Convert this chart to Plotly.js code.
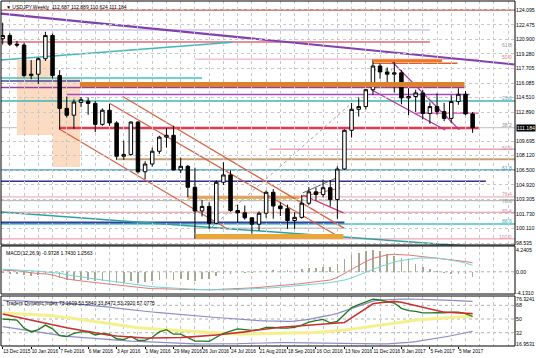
<!DOCTYPE html>
<html><head><meta charset="utf-8">
<script src="https://cdn.plot.ly/plotly-3.0.1.min.js"></script>
<style>html,body{margin:0;padding:0;background:#fff;overflow:hidden}#chart{width:536px;height:358px}</style>
</head><body><div id="chart"></div>
<script>
// ---------- DATA ----------
const weeks = ['2015-12-13','2015-12-20','2015-12-27','2016-01-03','2016-01-10','2016-01-17','2016-01-24','2016-01-31','2016-02-07','2016-02-14','2016-02-21','2016-02-28','2016-03-06','2016-03-13','2016-03-20','2016-03-27','2016-04-03','2016-04-10','2016-04-17','2016-04-24','2016-05-01','2016-05-08','2016-05-15','2016-05-22','2016-05-29','2016-06-05','2016-06-12','2016-06-19','2016-06-26','2016-07-03','2016-07-10','2016-07-17','2016-07-24','2016-07-31','2016-08-07','2016-08-14','2016-08-21','2016-08-28','2016-09-04','2016-09-11','2016-09-18','2016-09-25','2016-10-02','2016-10-09','2016-10-16','2016-10-23','2016-10-30','2016-11-06','2016-11-13','2016-11-20','2016-11-27','2016-12-04','2016-12-11','2016-12-18','2016-12-25','2017-01-01','2017-01-08','2017-01-15','2017-01-22','2017-01-29','2017-02-05','2017-02-12','2017-02-19','2017-02-26','2017-03-05','2017-03-12','2017-03-19'];
const opens  = [120.95,121.30,120.35,120.25,116.90,117.05,118.75,121.30,116.90,113.30,112.55,113.95,114.10,113.85,111.55,113.10,111.70,108.05,108.25,111.80,106.35,107.20,108.60,110.15,110.35,106.55,106.95,104.65,102.05,102.55,100.70,105.20,106.00,102.10,101.85,101.30,100.60,101.80,104.10,102.60,102.30,101.00,101.35,102.90,104.15,103.85,104.60,103.30,106.65,110.90,113.20,113.50,115.35,117.95,117.30,117.05,117.20,114.45,114.60,115.00,112.75,113.50,112.95,112.20,114.05,114.85,112.689];
const highs  = [122.70,121.55,120.70,120.50,118.60,118.90,121.70,121.50,117.50,114.60,114.30,114.55,114.50,114.10,113.30,113.80,111.90,109.75,111.90,111.90,107.50,109.00,110.30,111.20,111.40,107.90,107.10,106.80,103.25,103.00,105.40,107.40,106.50,102.75,102.65,101.35,102.00,104.30,104.45,103.00,102.75,101.90,103.80,104.65,104.60,105.50,105.45,106.95,111.00,113.90,114.50,115.40,118.65,118.25,117.80,118.60,117.50,115.50,115.35,115.35,113.95,114.95,113.90,114.75,115.50,115.20,112.889];
const lows   = [120.30,120.15,120.00,116.70,116.50,115.98,118.50,116.60,110.98,112.30,111.05,113.45,112.60,110.70,111.40,111.40,107.65,107.65,108.10,106.15,105.55,106.90,108.30,109.00,106.50,106.20,103.55,99.00,101.45,100.10,100.60,104.90,101.95,100.75,101.10,99.55,99.90,101.30,101.20,101.50,100.10,100.10,101.20,102.70,103.20,103.55,102.55,101.20,106.55,110.10,112.40,113.20,114.80,116.55,116.05,115.05,113.75,112.55,112.90,112.10,111.60,112.60,111.90,111.70,113.70,112.55,110.624];
const closes = [121.30,120.35,120.25,116.90,117.05,118.75,121.30,116.90,113.30,112.55,114.00,114.25,113.85,111.55,113.10,111.70,108.05,108.25,111.80,106.35,107.20,108.60,110.15,110.35,106.55,106.95,104.65,102.05,102.55,100.70,105.20,106.00,102.10,101.85,101.30,100.60,101.80,104.10,102.60,102.30,101.00,101.35,102.90,104.15,103.85,104.60,103.30,106.65,110.90,113.20,113.50,115.35,117.95,117.30,117.05,117.20,114.45,114.60,115.00,112.75,113.50,112.95,112.20,114.05,114.85,112.70,111.184];

const macdHist   = [-0.3,-0.4,-0.5,-0.7,-0.8,-0.7,-0.5,-0.8,-1.3,-1.6,-1.6,-1.5,-1.6,-1.8,-1.7,-1.9,-2.2,-2.1,-1.8,-2.1,-2.0,-1.8,-1.5,-1.3,-1.5,-1.4,-1.5,-1.7,-1.4,-1.4,-0.9,-0.4,-0.5,-0.3,-0.2,-0.2,0.0,0.2,0.3,0.4,0.3,0.3,0.5,0.7,0.8,0.9,0.9,1.5,2.4,3.2,3.6,4.0,4.24,4.0,3.5,3.0,2.6,2.3,1.6,1.0,0.5,0.1,-0.3,-0.4,-0.5,-0.5,-0.97];
const macdMain   = [0.3,0.25,0.2,0.0,-0.2,-0.35,-0.4,-0.6,-1.0,-1.4,-1.6,-1.8,-1.95,-2.1,-2.25,-2.4,-2.6,-2.8,-2.9,-3.1,-3.2,-3.3,-3.3,-3.3,-3.35,-3.4,-3.45,-3.5,-3.5,-3.5,-3.45,-3.35,-3.3,-3.25,-3.2,-3.15,-3.05,-2.9,-2.8,-2.7,-2.6,-2.45,-2.3,-2.1,-1.95,-1.8,-1.6,-1.1,-0.3,0.5,1.3,2.0,2.6,3.0,3.3,3.4,3.35,3.25,3.1,2.95,2.8,2.6,2.45,2.3,2.15,2.0,1.743];
const macdSignal = [0.5,0.45,0.4,0.3,0.2,0.1,0.0,-0.1,-0.3,-0.55,-0.8,-1.0,-1.2,-1.4,-1.6,-1.8,-2.0,-2.2,-2.4,-2.6,-2.75,-2.9,-3.0,-3.1,-3.2,-3.3,-3.35,-3.4,-3.45,-3.5,-3.5,-3.5,-3.5,-3.45,-3.4,-3.35,-3.3,-3.2,-3.1,-3.0,-2.9,-2.8,-2.7,-2.55,-2.4,-2.25,-2.1,-1.9,-1.6,-1.2,-0.7,-0.1,0.5,1.0,1.5,1.9,2.2,2.45,2.6,2.7,2.7,2.65,2.5,2.3,2.0,1.7,1.256];

const tdiUpper  = [74.5,74.3,74.0,73.8,73.5,73.2,72.8,72.2,71.5,70.8,70.0,69.3,68.5,67.6,66.8,65.6,64.4,63.2,62.1,61.0,60.1,59.2,58.3,57.4,56.5,55.8,55.0,54.3,53.6,52.8,52.0,51.3,50.5,49.8,49.0,48.4,47.9,47.5,47.2,47.0,47.0,47.3,48.0,49.5,51.5,53.0,55.0,57.5,60.5,63.5,66.5,70.0,73.5,75.0,75.6,75.9,76.1,76.32,76.2,76.0,75.7,75.3,74.9,74.5,74.1,73.6,73.16];
const tdiLower  = [39.9,38.5,37.0,35.5,34.0,32.5,31.0,29.5,28.3,27.2,26.4,25.6,24.8,24.0,23.3,22.6,22.0,21.4,20.9,20.5,20.0,19.5,19.0,18.6,18.2,17.9,17.6,17.3,17.1,17.0,16.95,17.0,17.2,17.5,17.8,18.1,18.4,18.8,19.2,19.0,18.8,18.6,18.4,18.3,18.2,18.1,17.9,17.7,17.5,17.3,17.2,17.1,17.1,17.2,17.4,17.7,18.3,19.2,20.3,21.6,23.0,24.6,26.3,28.0,29.8,31.8,33.85];
const tdiBase   = [57.9,57.5,57.0,56.5,56.0,55.4,54.8,54.1,53.4,52.0,50.6,49.2,47.8,46.4,45.0,43.7,42.4,41.1,39.8,38.6,37.9,37.2,36.5,35.8,35.1,34.5,34.0,33.5,32.9,32.3,31.8,31.2,30.7,30.4,30.4,30.5,30.6,30.8,30.9,31.1,31.2,31.3,31.5,31.7,32.2,32.9,33.6,34.4,35.4,36.7,38.1,39.5,40.8,42.2,43.5,44.8,46.1,47.5,48.5,49.5,50.3,51.0,51.6,52.2,52.8,53.2,53.58];
const tdiSignal = [56.5,54.5,52.0,50.0,47.5,45.5,44.0,42.5,40.5,38.6,36.8,35.0,33.2,31.3,29.5,28.6,27.7,26.8,25.9,25.0,25.0,25.0,25.0,25.0,25.0,25.6,26.2,26.7,27.2,28.1,29.0,29.9,30.8,31.7,33.1,34.5,35.8,37.2,38.6,39.2,39.8,40.5,41.1,41.7,42.4,43.2,44.0,44.7,45.4,51.5,57.7,63.8,70.0,71.5,72.5,73.2,72.0,70.0,67.8,65.6,63.4,61.2,59.0,58.5,58.0,57.5,57.08];
const tdiRsi    = [50,49.5,48.5,38,33,36,42,37,28,27,31,33,33,29,31,30,24,23,27,22,22,26,33,36,30,30,25,21,21,20.5,26,31,34,37,36,35,36,39,39,38,38,39,42,46,48,49.5,45,47,56,65,69,73,76,75,73,71,64,61,60,58,58,58.5,58,59,59,57,53.29];

const priceTicks = [124.095,122.475,120.900,119.280,117.705,116.085,114.510,112.890,109.695,108.120,106.500,104.920,103.305,101.730,100.110,98.535];
const dateTicks = ['2015-12-13','2016-01-10','2016-02-07','2016-03-06','2016-04-03','2016-05-01','2016-05-29','2016-06-26','2016-07-24','2016-08-21','2016-09-18','2016-10-16','2016-11-13','2016-12-11','2017-01-08','2017-02-05','2017-03-05'];
const dateTickText = ['13 Dec 2015','10 Jan 2016','7 Feb 2016','6 Mar 2016','3 Apr 2016','1 May 2016','29 May 2016','26 Jun 2016','24 Jul 2016','21 Aug 2016','18 Sep 2016','16 Oct 2016','13 Nov 2016','11 Dec 2016','8 Jan 2017','5 Feb 2017','5 Mar 2017'];
const lastPrice = 111.184;

// horizontal levels: price, from, to
const levelPrice = [124.095,121.90,120.59,118.70,116.31,115.60,114.83,114.12,116.64,112.80,111.16,108.82,107.72,106.55,105.31,103.56,103.59,103.18,101.91,100.63,100.79,100.16,98.99,118.25,117.52];
const levelFrom  = ['2015-12-10','2015-12-10','2015-12-10','2016-06-19','2015-12-10','2015-12-10','2016-02-14','2015-12-10','2015-12-10','2017-01-22','2016-02-07','2016-08-31','2016-04-04','2015-12-10','2015-12-10','2016-06-12','2015-12-10','2015-12-10','2015-12-10','2015-12-10','2015-12-10','2016-06-20','2015-12-10','2016-12-11','2016-12-11'];
const levelTo    = ['2017-05-05','2017-02-05','2017-02-05','2017-03-25','2016-02-27','2017-03-11','2017-03-16','2017-05-05','2016-06-26','2017-03-25','2017-03-25','2017-05-05','2017-05-05','2017-05-05','2017-04-01','2016-09-30','2017-05-05','2017-05-05','2017-05-05','2017-05-05','2016-11-13','2016-11-12','2017-05-05','2017-03-04','2016-12-30'];
const levelStyle = [['#c85a5a',1.5,'solid'],['#b4a4e6',1,'solid'],['#e06a7a',1.5,'solid'],['#eaa0b0',1,'solid'],['#4a4aa0',1.5,'solid'],['#9a3aa8',1.5,'solid'],['#a848c8',1.5,'solid'],['#40b4b4',1.5,'solid'],['#40c4c4',1.5,'solid'],['#e050b0',1.5,'solid'],['#e03a50',2.5,'solid'],['#eaa0b8',1.5,'solid'],['#c8a070',2,'solid'],['#40a0c8',1.5,'solid'],['#303090',1.5,'solid'],['#e0a020',3,'solid'],['#eaa0b0',1,'solid'],['#b0b0b0',1,'solid'],['#e890a0',1,'solid'],['#40c4c4',1.5,'solid'],['#3040a0',2,'solid'],['#a0a0a0',1,'solid'],['#e890a8',1,'solid'],['#e06020',1.5,'solid'],['#40a040',1,'dot']];

// trend lines: [date0, price0, date1, price1]
const trendD0 = ['2015-12-10','2015-12-10','2015-12-10','2016-04-09','2016-03-27','2016-02-07','2016-10-03','2016-07-06','2016-12-30','2016-12-10','2016-10-03','2016-10-01'];
const trendP0 = [123.71,118.61,101.94,114.61,113.87,111.01,103.81,100.33,118.39,115.32,104.03,103.59];
const trendD1 = ['2017-04-29','2016-07-26','2017-03-29','2016-11-13','2016-11-05','2016-07-21','2016-11-12','2016-11-18','2017-03-06','2017-02-20','2016-11-05','2016-11-09'];
const trendP1 = [118.12,120.55,98.08,100.14,99.39,100.08,101.84,113.68,110.94,110.94,105.67,104.58];
const trendStyle = [['#8040b0',2,'solid'],['#40b8b8',1.5,'solid'],['#30a0a0',1.5,'solid'],['#d86040',1.2,'solid'],['#d86040',1.2,'solid'],['#d86040',1.2,'solid'],['#d03060',1.2,'solid'],['#a0a0a0',1,'dot'],['#b030a0',1.2,'solid'],['#b030a0',1.2,'solid'],['#606060',1,'solid'],['#d86040',1,'solid']];

// filled zones: [date0, date1, priceTop, priceBottom]
const zoneD0 = ['2015-12-27','2016-01-31','2016-02-27','2016-12-11','2016-06-20'];
const zoneD1 = ['2016-01-31','2016-02-27','2017-03-11','2017-02-17','2016-11-12'];
const zoneTop = [118.61,116.64,116.20,118.68,99.53];
const zoneBot = [110.39,106.88,115.65,118.38,98.98];
const zoneColor = ['#fbdcc2','#fbdcc2','#d9822b','#f07820','#e8a838'];
const zoneBelow = [true,true,false,false,false];

// fibonacci labels
const fibText  = ['61.8','50.0','23.6','38.2','50.0','61.8','76.4','78.6','85.4','88.6','100.0'];
const fibPrice = [120.30,118.90,114.40,111.50,108.95,106.75,103.90,103.10,102.05,100.95,99.20];
const fibColor = ['#909090','#e07868','#70a0a0','#909090','#e090a0','#5090c0','#e090a0','#909090','#e090a0','#40b0b0','#e090a0'];

// ---------- BUILD ----------
const FONT = 'Liberation Sans, Arial, sans-serif';
const shapes = [];
const annotations = [];

for (let i = 0; i < zoneD0.length; i++) {
  shapes.push({type:'rect', xref:'x', yref:'y', x0:zoneD0[i], x1:zoneD1[i], y0:zoneBot[i], y1:zoneTop[i],
    fillcolor:zoneColor[i], line:{width:0}, layer: zoneBelow[i] ? 'below' : 'above'});
}
for (let i = 0; i < levelPrice.length; i++) {
  const s = levelStyle[i];
  shapes.push({type:'line', xref:'x', yref:'y', x0:levelFrom[i], x1:levelTo[i], y0:levelPrice[i], y1:levelPrice[i],
    line:{color:s[0], width:s[1], dash:s[2]}, layer:'below'});
}
shapes.push({type:'line', xref:'x domain', yref:'y', x0:0, x1:1, y0:lastPrice, y1:lastPrice, line:{color:'#c0c0c0', width:1}, layer:'below'});
for (let i = 0; i < trendD0.length; i++) {
  const s = trendStyle[i];
  shapes.push({type:'line', xref:'x', yref:'y', x0:trendD0[i], x1:trendD1[i], y0:trendP0[i], y1:trendP1[i],
    line:{color:s[0], width:s[1], dash:s[2]}, layer:'below'});
}
shapes.push({type:'line', xref:'x domain', yref:'y2', x0:0, x1:1, y0:0, y1:0, line:{color:'#b0b0b0', width:1, dash:'dot'}});
[68,50,32].forEach(v => shapes.push({type:'line', xref:'x domain', yref:'y3', x0:0, x1:1, y0:v, y1:v, line:{color:'#b0b0b0', width:1, dash:'dot'}, layer:'below'}));
['y','y2','y3'].forEach(a => shapes.push({type:'rect', xref:'x domain', yref:a+' domain', x0:0, x1:1, y0:0, y1:1, line:{color:'#000', width:1}, fillcolor:'rgba(0,0,0,0)'}));

for (let i = 0; i < fibText.length; i++) {
  annotations.push({xref:'x domain', yref:'y', x:0.998, y:fibPrice[i], xanchor:'right', yanchor:'middle', text:fibText[i],
    showarrow:false, font:{family:FONT, size:5, color:fibColor[i]}});
}
annotations.push({xref:'paper', yref:'y', x:1.002, y:lastPrice, xanchor:'left', yanchor:'middle', text:'111.184',
  showarrow:false, bgcolor:'#000', borderpad:0, font:{family:FONT, size:5.2, color:'#fff'}});
annotations.push({xref:'paper', yref:'y domain', x:0.006, y:0.997, xanchor:'left', yanchor:'top',
  text:'▼ USDJPY,Weekly  112.687 112.889 110.624 111.184', showarrow:false, font:{family:FONT, size:5, color:'#000'}});
annotations.push({xref:'paper', yref:'y2 domain', x:0.006, y:0.96, xanchor:'left', yanchor:'top',
  text:'MACD(12,26,9) -0.9728 1.7430 1.2563', showarrow:false, font:{family:FONT, size:5, color:'#000'}});
annotations.push({xref:'paper', yref:'y3 domain', x:0.006, y:0.96, xanchor:'left', yanchor:'top',
  text:'Traders Dynamic Index 73.1609 53.5840 33.8472 53.2920 57.0775', showarrow:false, font:{family:FONT, size:5, color:'#000'}});

const traces = [
  {type:'candlestick', x:weeks, open:opens, high:highs, low:lows, close:closes, xaxis:'x', yaxis:'y',
   increasing:{line:{color:'#000', width:1}, fillcolor:'#fff'},
   decreasing:{line:{color:'#000', width:1}, fillcolor:'#000'},
   whiskerwidth:0, hoverinfo:'skip', showlegend:false},
  {type:'bar', x:weeks, y:macdHist, xaxis:'x', yaxis:'y2', marker:{color:'#a8a890', line:{width:0}}, width:1.6*86400000, hoverinfo:'skip', showlegend:false},
  {type:'scatter', mode:'lines', x:weeks, y:macdMain, xaxis:'x', yaxis:'y2', line:{color:'#e07878', width:1}, hoverinfo:'skip', showlegend:false},
  {type:'scatter', mode:'lines', x:weeks, y:macdSignal, xaxis:'x', yaxis:'y2', line:{color:'#70d4d4', width:1}, hoverinfo:'skip', showlegend:false},
  {type:'scatter', mode:'lines', x:weeks, y:tdiUpper, xaxis:'x', yaxis:'y3', line:{color:'#8c8cc8', width:1.2}, hoverinfo:'skip', showlegend:false},
  {type:'scatter', mode:'lines', x:weeks, y:tdiLower, xaxis:'x', yaxis:'y3', line:{color:'#8c8cc8', width:1.2}, hoverinfo:'skip', showlegend:false},
  {type:'scatter', mode:'lines', x:weeks, y:tdiBase, xaxis:'x', yaxis:'y3', line:{color:'#f4f08c', width:3}, hoverinfo:'skip', showlegend:false},
  {type:'scatter', mode:'lines', x:weeks, y:tdiRsi, xaxis:'x', yaxis:'y3', line:{color:'#1e7a1e', width:1.3}, hoverinfo:'skip', showlegend:false},
  {type:'scatter', mode:'lines', x:weeks, y:tdiSignal, xaxis:'x', yaxis:'y3', line:{color:'#c83030', width:1.6}, hoverinfo:'skip', showlegend:false}
];

const yCommon = {side:'right', anchor:'x', showline:false, zeroline:false, ticks:'', fixedrange:true, automargin:false,
  tickfont:{family:FONT, size:5.2, color:'#000'}, ticklabelstandoff:0};

const layout = {
  width:536, height:358,
  margin:{l:1, r:21, t:1, b:12, pad:0},
  paper_bgcolor:'#fff', plot_bgcolor:'#fff',
  showlegend:false, dragmode:false, hovermode:false,
  bargap:0,
  xaxis:{type:'date', anchor:'y3', range:['2015-12-11 08:00','2017-04-29 16:00'], automargin:false,
    rangeslider:{visible:false}, showgrid:false, zeroline:false, showline:false,
    tickmode:'array', tickvals:dateTicks, ticktext:dateTickText, tickangle:0,
    ticks:'outside', ticklen:2, tickcolor:'#000', ticklabelposition:'outside right',
    tickfont:{family:FONT, size:4.8, color:'#000'}, ticklabelstandoff:0,
    minor:{tick0:'2015-12-20', dtick:14*86400000, showgrid:true, gridcolor:'#c8c8c8', griddash:'dot', gridwidth:1, ticks:''}},
  yaxis:Object.assign({}, yCommon, {domain:[0.2928,1], range:[98.32,125.08], tickvals:priceTicks,
    ticktext:priceTicks.map(v => v.toFixed(3)), showgrid:true, gridcolor:'#c8c8c8', griddash:'dot', gridwidth:1}),
  yaxis2:Object.assign({}, yCommon, {domain:[0.1507,0.2899], range:[-4.32,5.02], tickvals:[4.2405,0,-4.131],
    ticktext:['4.2405','0.00','-4.1310'], showgrid:false}),
  yaxis3:Object.assign({}, yCommon, {domain:[0,0.1449], range:[14.48,80.27], tickvals:[76.3241,68,50,32,16.9531],
    ticktext:['76.3241','68','50','32','16.9531'], showgrid:false}),
  shapes:shapes, annotations:annotations
};

Plotly.newPlot('chart', traces, layout, {staticPlot:true, displayModeBar:false});
</script></body></html>
